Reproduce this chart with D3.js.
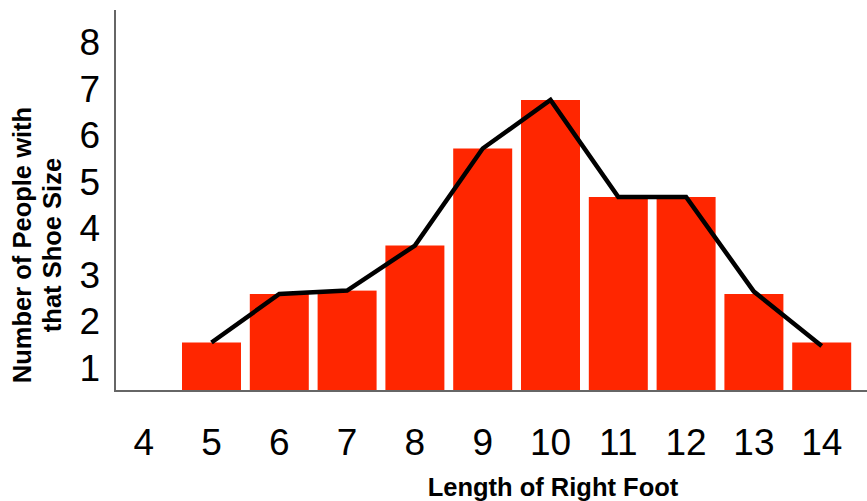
<!DOCTYPE html>
<html>
<head>
<meta charset="utf-8">
<script src="https://cdn.jsdelivr.net/npm/d3@7"></script>
<style>
  html, body { margin: 0; padding: 0; background: #fff; }
  svg { display: block; font-family: "Liberation Sans", Arial, sans-serif; }
</style>
</head>
<body>
<svg id="chart" width="867" height="501"></svg>
<script>
// ---- data ----
const categories = [4, 5, 6, 7, 8, 9, 10, 11, 12, 13, 14];
const barValues  = [0, 1, 2, 2.07, 3, 5, 6, 4, 4, 2, 1];
const lineCategories = [5, 6, 7, 8, 9, 10, 11, 12, 13, 14];
const lineValues = [1, 2, 2.07, 3, 5, 6, 4, 4, 2.05, 0.93];
const yTickLabels = [1, 2, 3, 4, 5, 6, 7, 8];
const xTitle = "Length of Right Foot";
const yTitleLines = ["Number of People with", "that Shoe Size"];

// ---- layout ----
const svg = d3.select("#chart");
const baseY = 391;
const x = d3.scaleBand()
  .domain(categories)
  .range([114.2, 851.2])
  .paddingInner(0.13)
  .paddingOuter(0);
const y = d3.scaleLinear().domain([0, 8]).range([baseY, baseY - 8 * 48.5]);
// tick labels in the original are spaced independently of the bars
const yLabel = d3.scaleLinear().domain([1, 8]).range([366.7, 41.5]);

// bars
svg.append("g").selectAll("rect")
  .data(categories.map((c, i) => ({ c, v: barValues[i] })).filter(d => d.v > 0))
  .join("rect")
  .attr("x", d => x(d.c))
  .attr("width", x.bandwidth())
  .attr("y", d => y(d.v))
  .attr("height", d => baseY - y(d.v))
  .attr("fill", "#ff2600");

// line
const line = d3.line()
  .x(d => x(d.c) + x.bandwidth() / 2)
  .y(d => y(d.v));
svg.append("path")
  .datum(lineCategories.map((c, i) => ({ c, v: lineValues[i] })))
  .attr("d", line)
  .attr("fill", "none")
  .attr("stroke", "#000")
  .attr("stroke-width", 4.5)
  .attr("stroke-linejoin", "miter");

// axis lines
svg.append("line")
  .attr("x1", 115).attr("x2", 115)
  .attr("y1", 10).attr("y2", baseY + 1)
  .attr("stroke", "#666").attr("stroke-width", 2);
svg.append("line")
  .attr("x1", 114).attr("x2", 867)
  .attr("y1", baseY).attr("y2", baseY)
  .attr("stroke", "#666").attr("stroke-width", 2);

// y tick labels
const gy = svg.append("g")
  .attr("transform", "translate(100,0)")
  .call(d3.axisLeft(yLabel).tickValues(yTickLabels).tickFormat(d3.format("d")).tickSize(0).tickPadding(0));
gy.select(".domain").remove();
gy.selectAll("text")
  .attr("font-family", "Liberation Sans, Arial, sans-serif")
  .attr("font-size", 37)
  .attr("fill", "#000")
  .attr("dy", "0.36em");

// x tick labels
const gx = svg.append("g")
  .call(d3.axisBottom(x).tickSize(0).tickPadding(0));
gx.select(".domain").remove();
gx.selectAll("text")
  .attr("font-family", "Liberation Sans, Arial, sans-serif")
  .attr("font-size", 37)
  .attr("fill", "#000")
  .attr("y", 455)
  .attr("dy", 0);

// x title
svg.append("text")
  .attr("x", 553)
  .attr("y", 496)
  .attr("text-anchor", "middle")
  .attr("font-weight", "bold")
  .attr("font-size", 25.5)
  .text(xTitle);

// y title
const yt = svg.append("text")
  .attr("transform", "translate(0,245) rotate(-90)")
  .attr("text-anchor", "middle")
  .attr("font-weight", "bold")
  .attr("font-size", 25.5);
yTitleLines.forEach((t, i) => {
  yt.append("tspan").attr("x", 0).attr("y", 31 + i * 30).text(t);
});
</script>
</body>
</html>
